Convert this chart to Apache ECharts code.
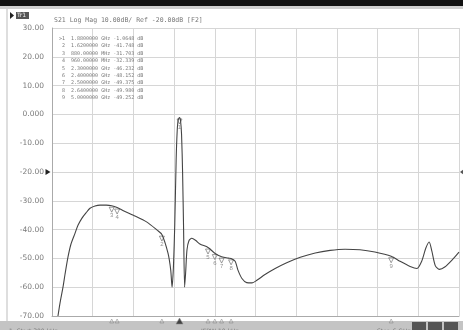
<!DOCTYPE html>
<html>
<head>
<meta charset="UTF-8">
<script src="https://cdn.jsdelivr.net/npm/echarts@6/dist/echarts.min.js"></script>
<style>
    html, body { margin: 0; padding: 0; background: #fff; }
    #chart { width: 463px; height: 330px; }
</style>
</head>
<body>
<div id="chart"></div>
<script>
    // S21 trace, frequency in GHz, magnitude in dB
    let freq = [0.088, 0.118, 0.162, 0.192, 0.236, 0.28, 0.339, 0.383, 0.442, 0.501, 0.56, 0.634, 0.708, 0.80, 0.88, 0.96, 1.06,
        1.20, 1.40, 1.55, 1.62, 1.71, 1.75, 1.77, 1.79,
        1.81, 1.83, 1.845, 1.86, 1.88, 1.895, 1.91, 1.925, 1.94, 1.955, 1.97, 1.99, 2.02, 2.06, 2.12, 2.18, 2.30, 2.40, 2.50,
        2.60, 2.64, 2.70, 2.74, 2.80, 2.87, 2.95, 3.02, 3.14, 3.29, 3.46, 3.66, 3.88, 4.10, 4.32, 4.54, 4.76, 5.00, 5.13, 5.28,
        5.38, 5.45, 5.51, 5.56, 5.60, 5.65, 5.71, 5.79, 5.90, 6.00];
    let s21 = [-70, -65.5, -60, -55.5, -49.5, -45, -41.3, -38.5, -36, -34.2, -32.6, -31.8, -31.5, -31.5, -31.7, -32.3, -33.5,
        -35, -37.4, -40.2, -41.7, -48.2, -54, -60, -53,
        -38, -16, -6, -2, -1.06, -2.2, -7, -20, -40, -60, -55, -47, -43.8, -43, -43.8, -45, -46.2, -48.2, -49.4,
        -49.9, -50, -51, -54, -57, -58.4, -58.5, -57.6, -55.6, -53.5, -51.5, -49.6, -48.1, -47.2, -46.8, -47, -47.8, -49.25, -51, -52.8,
        -53.5, -51, -46.5, -44.3, -47.5, -52.5, -53.8, -53, -50.5, -47.8];

    // markers
    let mk_no = [1, 2, 3, 4, 5, 6, 7, 8, 9];
    let mk_freq = [1.88, 1.62, 0.88, 0.96, 2.30, 2.40, 2.50, 2.64, 5.00];
    let mk_val = [-1.0648, -41.748, -31.703, -32.339, -46.232, -48.152, -49.375, -49.980, -49.252];

    // axis
    let y_min = -70, y_max = 30, y_div = 10;
    let f_start = 0, f_stop = 6, f_div = 0.6;
    let ref_level = -20;

    function fmt_freq(f){
        if ( f < 1 ) return (f * 1000).toFixed(5) + ' MHz';
        return f.toFixed(7) + ' GHz';
    }
    function fmt_y(v){
        if ( v === 0 ) return '0.000';
        return v.toFixed(2);
    }

    let table = mk_no.map(function(n, i){
        let no = (i === 0 ? '>' : ' ') + n;
        let v = Math.abs(mk_val[i]) < 10 ? mk_val[i].toFixed(4) : mk_val[i].toFixed(3);
        return no + '  ' + fmt_freq(mk_freq[i]) + ' ' + v + ' dB';
    }).join('\n');

    let trace = freq.map(function(f, i){ return [f, s21[i]]; });
    let mk_points = mk_freq.map(function(f, i){ return [f, mk_val[i], mk_no[i]]; });
    let mk_bottom = mk_freq.map(function(f, i){ return [f, y_min, mk_no[i]]; });

    let txt = '#7a7a7a';
    let myChart = echarts.init(document.getElementById('chart'));
    let option = {
        animation: false,
        backgroundColor: '#fff',
        grid: { left: 52, right: 4, top: 28, bottom: 14 },
        title: [{
            text: 'S21 Log Mag 10.00dB/ Ref -20.00dB [F2]',
            left: 49, top: 12,
            textStyle: { fontSize: 6.5, fontWeight: 'normal', color: '#777', fontFamily: 'DejaVu Sans Mono' }
        }, {
            text: table,
            left: 54, top: 30,
            textStyle: { fontSize: 5, lineHeight: 7.4, fontWeight: 'normal', color: '#7a7a7a', fontFamily: 'DejaVu Sans Mono' }
        }, {
            text: '1  Start 300 kHz',
            left: 4, top: 323,
            textStyle: { fontSize: 6, fontWeight: 'normal', color: '#777', fontFamily: 'DejaVu Sans' }
        }, {
            text: 'IFBW 10 kHz',
            left: 196, top: 323,
            textStyle: { fontSize: 6, fontWeight: 'normal', color: '#777', fontFamily: 'DejaVu Sans' }
        }, {
            text: 'Stop 6 GHz',
            left: 372, top: 323,
            textStyle: { fontSize: 6, fontWeight: 'normal', color: '#777', fontFamily: 'DejaVu Sans' }
        }],
        graphic: [
            { type: 'rect', shape: { x: 0, y: 0, width: 463, height: 6 }, style: { fill: '#111' } },
            { type: 'rect', shape: { x: 0, y: 6, width: 463, height: 3 }, style: { fill: '#cfcfcf' } },
            { type: 'rect', shape: { x: 0, y: 321, width: 463, height: 9 }, style: { fill: '#c4c4c4' } },
            { type: 'line', shape: { x1: 7, y1: 9, x2: 7, y2: 321 }, style: { stroke: '#bdbdbd', lineWidth: 1 } },
            { type: 'polygon', shape: { points: [[10, 12], [10, 19], [14, 15.5]] }, style: { fill: '#222' } },
            { type: 'rect', shape: { x: 16, y: 12, width: 13, height: 7 }, style: { fill: '#555' } },
            { type: 'text', style: { x: 17, y: 12.5, text: 'Tr1', fontSize: 6, fill: '#eee', fontFamily: 'DejaVu Sans' } },
            { type: 'rect', shape: { x: 412, y: 322, width: 14, height: 8 }, style: { fill: '#555' } },
            { type: 'rect', shape: { x: 428, y: 322, width: 14, height: 8 }, style: { fill: '#555' } },
            { type: 'rect', shape: { x: 444, y: 322, width: 14, height: 8 }, style: { fill: '#555' } }
        ],
        xAxis: {
            type: 'value', min: f_start, max: f_stop, interval: f_div,
            axisLine: { show: true, onZero: false, lineStyle: { color: '#aaa' } },
            axisTick: { show: false },
            axisLabel: { show: false },
            splitLine: { show: true, lineStyle: { color: '#d6d6d6', width: 1 } }
        },
        yAxis: {
            type: 'value', min: y_min, max: y_max, interval: y_div,
            axisLine: { show: true, lineStyle: { color: '#aaa' } },
            axisTick: { show: false },
            axisLabel: { color: txt, fontSize: 7.5, margin: 8, fontFamily: 'DejaVu Sans', formatter: fmt_y },
            splitLine: { show: true, lineStyle: { color: '#d6d6d6', width: 1 } }
        },
        series: [{
            name: 'S21',
            type: 'line',
            data: trace,
            showSymbol: false,
            smooth: 0.25,
            lineStyle: { color: '#444', width: 1.1 },
            markPoint: {
                silent: true,
                data: [
                    { coord: [f_start, ref_level], symbol: 'triangle', symbolSize: [6, 5], symbolRotate: -90, symbolOffset: [-4, 0],
                      itemStyle: { color: '#222' }, label: { show: false } },
                    { coord: [f_stop, ref_level], symbol: 'triangle', symbolSize: [6, 4], symbolRotate: 90, symbolOffset: [3, 0],
                      itemStyle: { color: '#555' }, label: { show: false } }
                ]
            }
        }, {
            name: 'markers',
            type: 'scatter',
            data: mk_points,
            symbol: 'triangle',
            symbolRotate: 180,
            symbolSize: [5, 5],
            symbolOffset: [0, 4],
            itemStyle: { color: 'rgba(0,0,0,0)', borderColor: '#666', borderWidth: 0.8 },
            label: {
                show: true, position: 'bottom', distance: 0, fontSize: 6, color: '#777',
                formatter: function(p){ return p.value[2]; }
            }
        }, {
            name: 'marker bar',
            type: 'scatter',
            data: mk_bottom,
            clip: false,
            symbol: 'triangle',
            symbolSize: function(v){ return v[2] === 1 ? [7, 6] : [4, 4]; },
            symbolOffset: [0, 5],
            itemStyle: {
                color: function(p){ return p.value[2] === 1 ? '#222' : 'rgba(0,0,0,0)'; },
                borderColor: '#888', borderWidth: 0.7
            }
        }]
    };
    myChart.setOption(option);
</script>
</body>
</html>
